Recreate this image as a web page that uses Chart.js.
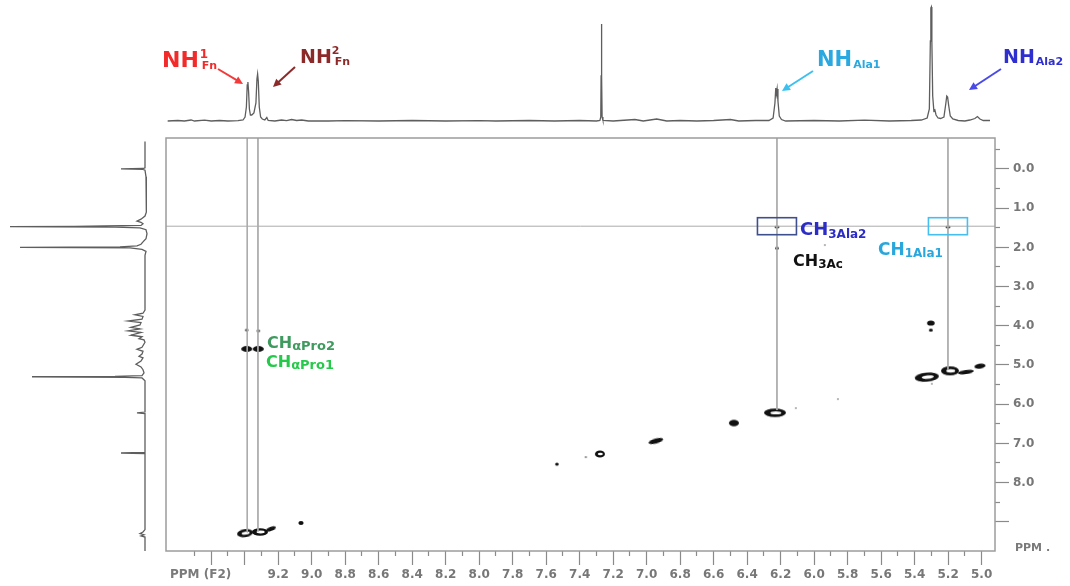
<!DOCTYPE html>
<html>
<head>
<meta charset="utf-8">
<script src="https://cdn.jsdelivr.net/npm/chart.js@4.4.1/dist/chart.umd.min.js"></script>
<style>
  html,body{margin:0;padding:0;background:#fff;}
  #wrap{position:relative;width:1070px;height:586px;overflow:hidden;}
  canvas{position:absolute;left:0;top:0;}
</style>
</head>
<body>
<div id="wrap">
  <canvas id="main" width="1070" height="586"></canvas>
  <canvas id="top" width="1070" height="137"></canvas>
  <canvas id="left" width="166" height="586"></canvas>
</div>
<script>
// ---------------- DATA ----------------
// F2 axis (horizontal, ppm) range and F1 axis (vertical, ppm) range
const f2Min = 4.92, f2Max = 9.87;
const f1Min = -0.79, f1Max = 9.745;

// Top 1D projection (F2): chemical shift (ppm) and intensity
const topPPM = [9.86,9.80,9.76,9.72,9.70,9.64,9.60,9.55,9.50,9.44,9.41,9.398,9.390,9.385,9.381,9.377,9.372,9.366,9.358,9.345,9.333,9.327,9.323,9.319,9.313,9.305,9.295,9.28,9.268,9.26,9.22,9.18,9.15,9.12,9.09,9.06,9.02,8.90,8.80,8.60,8.40,8.20,8.00,7.90,7.70,7.55,7.40,7.30,7.279,7.274,7.272,7.270,7.268,7.266,7.261,7.20,7.07,7.02,6.94,6.88,6.80,6.70,6.60,6.50,6.45,6.35,6.27,6.245,6.234,6.229,6.225,6.221,6.216,6.208,6.195,6.17,6.00,5.85,5.70,5.55,5.42,5.36,5.325,5.312,5.306,5.303,5.300,5.297,5.292,5.285,5.279,5.272,5.26,5.245,5.225,5.214,5.208,5.203,5.197,5.187,5.172,5.14,5.10,5.07,5.04,5.025,5.01,4.99,4.95];
const topInt = [0,0.5,0,1,0,0.8,0,0.5,0,0.3,1,4,14,36,39,30,12,6,6,8,18,42,47,40,14,4,2,1,3.5,0.5,0,1,0.3,1.5,0.5,1,0,0,0.3,0,0.5,0,0.3,0,0.5,0,0.5,0,0.5,4,45,97,45,4,0.5,0,1.5,0,2,0,0.5,0,0.5,1.5,0,0.5,0.5,3,18,33,27,32,20,5,1.5,0,0.5,0,0.8,0,0.5,1,3,12,80,113,114,80,25,10,11,6,3,2.5,4,17,25,24,16,5,2,0.5,0,1,2.5,4.5,2,0.5,0.5];

// Left 1D projection (F1): chemical shift (ppm) and intensity
const leftPPM = [-0.70,-0.20,-0.03,-0.012,0.0,0.012,0.03,0.20,0.50,0.90,1.10,1.20,1.28,1.33,1.36,1.40,1.44,1.455,1.462,1.47,1.478,1.485,1.50,1.55,1.65,1.78,1.86,1.92,1.96,1.985,2.0,2.015,2.05,2.10,2.20,3.00,3.60,3.68,3.72,3.76,3.83,3.88,3.92,3.98,4.04,4.08,4.13,4.17,4.24,4.28,4.33,4.36,4.42,4.55,4.60,4.65,4.72,4.78,4.82,4.90,4.98,5.05,5.12,5.20,5.27,5.29,5.30,5.315,5.33,5.40,6.00,6.20,6.22,6.24,7.00,7.23,7.245,7.26,9.20,9.26,9.30,9.33,9.36,9.39,9.77];
const leftInt = [0,0,0,2,24,2,0,-1,-1.5,-1.5,-1,0,4,8,4,2,4,40,70,135,90,30,5,-1,-2,-1,2,4,8,25,125,15,3,-1,0,0,0,2,10,2,3,17,4,5,14,5,17,4,14,3,6,1,0,3,8,2,3,6,2,4,9,4,2,1,3,30,113,20,3,0,0,0,8,0,0,0,24,0,0,2,5,1,4,0,0];

// 2D cross peaks (F2 ppm, F1 ppm)
const crossF2 = [9.388,9.319,9.388,9.319,9.398,9.309,9.243,9.064,6.222,5.201,6.222,5.936,7.536,7.363,7.279,6.945,6.479,6.234,6.109,5.858,5.303,5.303,5.327,5.189,5.094,5.010,5.297];
const crossF1 = [4.59,4.59,4.11,4.13,9.29,9.26,9.18,9.03,1.48,1.48,2.02,1.94,7.53,7.35,7.27,6.94,6.48,6.22,6.10,5.87,3.93,4.11,5.31,5.15,5.18,5.03,5.48];

// Guide lines: NH resonances traced down from the 1D projection
const guideF2 = [9.385,9.321,6.222,5.201];
const guideEndF1 = [9.27,9.25,6.15,5.12];
const guideF1 = 1.46;          // horizontal trace (CH3 / CH Ala)
const boxF2 = [6.222,5.201];   // highlighted correlations
const boxF1 = [1.46,1.46];

// Tick labels
const xTickLabels = ['9.2','9.0','8.8','8.6','8.4','8.2','8.0','7.8','7.6','7.4','7.2','7.0','6.8','6.6','6.4','6.2','6.0','5.8','5.6','5.4','5.2','5.0'];
const yTickLabels = ['0.0','1.0','2.0','3.0','4.0','5.0','6.0','7.0','8.0'];

// ---------------- STYLES ----------------
const FONT = '"DejaVu Sans", "Verdana", sans-serif';
Chart.defaults.font.family = FONT;
const peakRx   = [5.5,5.5,1.6,1.6,8,8,5,2.6,2.2,2.2,1.8,1,1.8,1.1,5,7.5,5,11,1,1,3.8,2,12,9,8,5.5,1];
const peakRy   = [3,3,1.3,1.3,4,3.8,2,2,1.6,1.6,1.5,0.8,1.6,0.9,3.6,2.6,3.3,4.2,0.8,0.8,2.6,1.5,4.5,4.5,2,2.5,0.8];
const peakKind = [0,0,0,0,1,1,0,0,0,0,0,2,0,2,1,0,0,1,2,2,0,0,1,1,0,0,2];
const peakRot  = [0,0,0,0,-8,0,-20,0,0,0,0,0,0,0,0,-15,0,0,0,0,0,0,-5,0,-8,-8,0];

function blob(rx, ry, kind) {
  const c = document.createElement('canvas');
  c.width = Math.ceil(rx * 2 + 4); c.height = Math.ceil(ry * 2 + 4);
  const g = c.getContext('2d');
  g.fillStyle = kind === 2 ? '#777' : '#111';
  g.beginPath(); g.ellipse(c.width / 2, c.height / 2, rx, ry, 0, 0, Math.PI * 2); g.fill();
  if (kind === 1) {
    g.globalCompositeOperation = 'destination-out';
    g.beginPath(); g.ellipse(c.width / 2 + rx * 0.08, c.height / 2, rx * 0.5, ry * 0.38, 0, 0, Math.PI * 2); g.fill();
  }
  return c;
}

// parts: main text then sub/superscripts; dx/dy relative to end of main text
function drawLabel(ctx, color, x, y, main, size, subs) {
  ctx.save();
  ctx.fillStyle = color;
  ctx.textBaseline = 'alphabetic';
  ctx.textAlign = 'left';
  ctx.font = 'bold ' + size + 'px ' + FONT;
  ctx.fillText(main, x, y);
  const end = x + ctx.measureText(main).width;
  subs.forEach(p => {
    ctx.font = 'bold ' + p.s + 'px ' + FONT;
    ctx.fillText(p.t, end + (p.dx || 0), y + (p.dy || 0));
  });
  ctx.restore();
}

function arrow(ctx, x1, y1, x2, y2, color) {
  const a = Math.atan2(y2 - y1, x2 - x1), L = 8, W = 4;
  ctx.save();
  ctx.strokeStyle = color; ctx.fillStyle = color; ctx.lineWidth = 2;
  ctx.beginPath(); ctx.moveTo(x1, y1); ctx.lineTo(x2 - L * 0.8 * Math.cos(a), y2 - L * 0.8 * Math.sin(a)); ctx.stroke();
  ctx.beginPath();
  ctx.moveTo(x2, y2);
  ctx.lineTo(x2 - L * Math.cos(a) + W * Math.sin(a), y2 - L * Math.sin(a) - W * Math.cos(a));
  ctx.lineTo(x2 - L * Math.cos(a) - W * Math.sin(a), y2 - L * Math.sin(a) + W * Math.cos(a));
  ctx.closePath(); ctx.fill();
  ctx.restore();
}

// ---------------- MAIN 2D CHART ----------------
const guideColor = '#ababab';
const datasets = [];
guideF2.forEach((g, i) => {
  datasets.push({ data: [{x: g, y: f1Min}, {x: g, y: guideEndF1[i]}], showLine: true, borderColor: guideColor, borderWidth: 1, pointRadius: 0 });
});
datasets.push({ data: [{x: f2Max, y: guideF1}, {x: f2Min, y: guideF1}], showLine: true, borderColor: guideColor, borderWidth: 1, pointRadius: 0 });
datasets.push({
  data: crossF2.map((x, i) => ({x: x, y: crossF1[i]})),
  pointStyle: crossF2.map((x, i) => blob(peakRx[i], peakRy[i], peakKind[i])),
  rotation: peakRot,
  pointRadius: 4,
  showLine: false
});

const annot = {
  id: 'annot',
  afterDraw(chart) {
    const ctx = chart.ctx, a = chart.chartArea;
    const xs = chart.scales.x, ys = chart.scales.y;
    ctx.save();
    ctx.strokeStyle = '#9c9c9c'; ctx.lineWidth = 1.5;
    ctx.strokeRect(a.left, a.top, a.right - a.left, a.bottom - a.top);
    const boxColors = ['#3e4f8e', '#45bff0'];
    boxF2.forEach((b, i) => {
      const px = xs.getPixelForValue(b), py = ys.getPixelForValue(boxF1[i]);
      ctx.strokeStyle = boxColors[i]; ctx.lineWidth = 1.6;
      ctx.strokeRect(px - 19.5, py - 8.5, 39, 17);
    });
    ctx.restore();
    // axis unit labels
    drawLabel(ctx, '#7a7a7a', 170, 578, 'PPM (F2)', 12, []);
    drawLabel(ctx, '#7a7a7a', 1015, 551, 'PPM .', 11, []);
    // 2D annotations
    drawLabel(ctx, '#2c2cc6', 800, 235, 'CH', 18, [{t: '3Ala2', s: 12, dy: 3}]);
    drawLabel(ctx, '#29a6dc', 878, 255, 'CH', 17, [{t: '1Ala1', s: 12, dy: 2}]);
    drawLabel(ctx, '#111111', 793, 266, 'CH', 16, [{t: '3Ac', s: 12, dy: 2}]);
    drawLabel(ctx, '#3e9a5e', 267, 348, 'CH', 16, [{t: 'αPro2', s: 13, dy: 2}]);
    drawLabel(ctx, '#25c94a', 266, 367, 'CH', 16, [{t: 'αPro1', s: 13, dy: 2}]);
    // 1D annotations
    drawLabel(ctx, '#f22a2a', 162, 67, 'NH', 22, [{t: '1', s: 12, dx: 1, dy: -9}, {t: 'Fn', s: 11, dx: 3, dy: 2}]);
    arrow(ctx, 218, 69, 243, 84, '#f23a3a');
    drawLabel(ctx, '#8c2a2a', 300, 63, 'NH', 19, [{t: '2', s: 11, dx: 0, dy: -9}, {t: 'Fn', s: 11, dx: 3, dy: 2}]);
    arrow(ctx, 295, 67, 273, 87, '#8c2a2a');
    drawLabel(ctx, '#2aa8e0', 817, 66, 'NH', 21, [{t: 'Ala1', s: 11, dx: 1, dy: 2}]);
    arrow(ctx, 813, 71, 782, 91, '#3cc0f0');
    drawLabel(ctx, '#2f2fd0', 1003, 63, 'NH', 19, [{t: 'Ala2', s: 11, dx: 1, dy: 2}]);
    arrow(ctx, 1001, 69, 969, 90, '#4a4ae8');
  }
};

new Chart(document.getElementById('main'), {
  type: 'scatter',
  data: { datasets: datasets },
  options: {
    responsive: false, animation: false, events: [],
    layout: { padding: { left: 166, top: 138, right: 0, bottom: 0 } },
    plugins: { legend: { display: false }, tooltip: { enabled: false } },
    scales: {
      x: {
        type: 'linear', reverse: true, min: f2Min, max: f2Max, position: 'bottom',
        afterFit(s) { s.height = 35; },
        afterBuildTicks(s) { s.ticks = s.ticks.filter(t => t.value >= 4.95 && t.value <= 9.75); },
        ticks: {
          stepSize: 0.1, includeBounds: false, autoSkip: false, maxRotation: 0, minRotation: 0, padding: 3,
          color: '#777', font: { size: 12, weight: 'bold' },
          callback(v) { const s = (Math.round(v * 10) / 10).toFixed(1); return xTickLabels.includes(s) ? s : ''; }
        },
        grid: {
          drawOnChartArea: false, tickLength: 14, tickColor: '#8a8a8a', tickWidth: 1.2,
          tickBorderDash: c => (c.tick && Math.abs(Math.round(c.tick.value * 10)) % 2 === 1 ? [5, 40] : [])
        },
        border: { display: false }
      },
      y: {
        type: 'linear', reverse: true, min: f1Min, max: f1Max, position: 'right',
        afterFit(s) { s.width = 75; },
        afterBuildTicks(s) { s.ticks = s.ticks.filter(t => t.value >= -0.6 && t.value <= 9.1); },
        ticks: {
          stepSize: 0.5, includeBounds: false, autoSkip: false, padding: 4,
          color: '#777', font: { size: 12, weight: 'bold' },
          callback(v) { const s = (Math.round(v * 2) / 2).toFixed(1); return yTickLabels.includes(s) ? s : ''; }
        },
        grid: {
          drawOnChartArea: false, tickLength: 14, tickColor: '#8a8a8a', tickWidth: 1.2,
          tickBorderDash: c => (c.tick && Math.abs(Math.round(c.tick.value * 2)) % 2 === 1 ? [5, 40] : [])
        },
        border: { display: false }
      }
    }
  },
  plugins: [annot]
});

// ---------------- TOP 1D PROJECTION ----------------
new Chart(document.getElementById('top'), {
  type: 'scatter',
  data: { datasets: [{ data: topPPM.map((p, i) => ({x: p, y: topInt[i]})), showLine: true, borderColor: '#5e5e5e', borderWidth: 1.3, pointRadius: 0 }] },
  options: {
    responsive: false, animation: false, events: [],
    layout: { padding: { left: 166, right: 75, top: 0, bottom: 0 } },
    plugins: { legend: { display: false }, tooltip: { enabled: false } },
    scales: {
      x: { type: 'linear', reverse: true, min: f2Min, max: f2Max, display: false },
      y: { type: 'linear', min: -16, max: 121, display: false }
    }
  }
});

// ---------------- LEFT 1D PROJECTION ----------------
new Chart(document.getElementById('left'), {
  type: 'scatter',
  data: { datasets: [{ data: leftPPM.map((p, i) => ({x: leftInt[i], y: p})), showLine: true, borderColor: '#5e5e5e', borderWidth: 1.3, pointRadius: 0 }] },
  options: {
    responsive: false, animation: false, events: [],
    layout: { padding: { left: 0, right: 0, top: 138, bottom: 35 } },
    plugins: { legend: { display: false }, tooltip: { enabled: false } },
    scales: {
      x: { type: 'linear', reverse: true, min: -21, max: 145, display: false },
      y: { type: 'linear', reverse: true, min: f1Min, max: f1Max, display: false }
    }
  }
});
</script>
</body>
</html>
